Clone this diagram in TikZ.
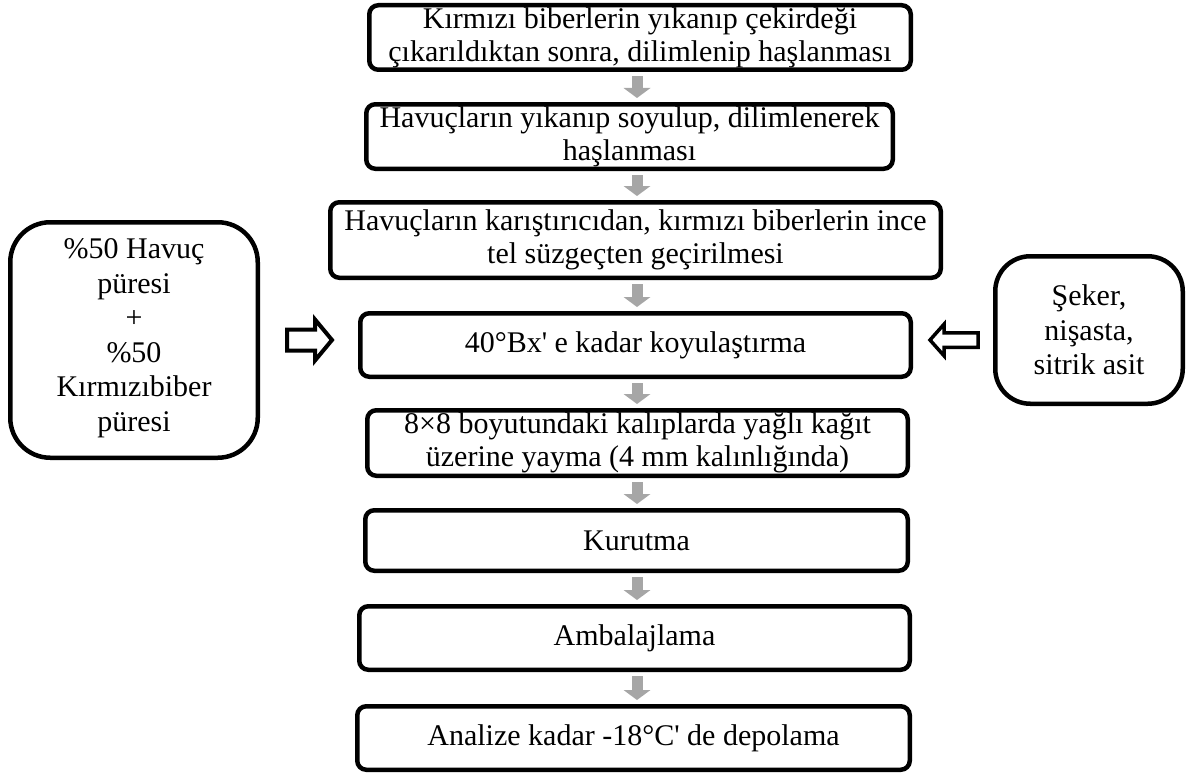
\documentclass[tikz,border=0pt]{standalone}
\usepackage{fontspec}
\setmainfont{Liberation Serif}
\usetikzlibrary{arrows.meta,calc}
\definecolor{flowgray}{RGB}{166,166,166}
\begin{document}
\begin{tikzpicture}[x=1pt,y=-1pt,
  stepbox/.style={draw=black, line width=4.5pt, rounded corners=9pt, fill=white,
    align=center, inner sep=0pt, font=\fontsize{30}{33}\selectfont},
  sidebox/.style={draw=black, line width=4.5pt, fill=white, inner sep=0pt},
  sidetext/.style={align=center, inner sep=0pt, font=\fontsize{30}{34.5}\selectfont},
  garrow/.style={draw=flowgray, line width=11pt,
    -{Triangle[width=27pt,length=10pt,line width=0pt]}},
  harrow/.style={draw=black, fill=white, line join=miter}]
\useasboundingbox (0,0) rectangle (1192,776);

% main process chain
\node[stepbox, minimum width=541.5pt, minimum height=64.5pt] (b1) at (640,37.5)
  {Kırmızı biberlerin yıkanıp çekirdeği\\çıkarıldıktan sonra, dilimlenip haşlanması};
\node[stepbox, minimum width=526.5pt, minimum height=64.5pt] (b2) at (629.5,136.5)
  {Havuçların yıkanıp soyulup, dilimlenerek\\haşlanması};
\node[stepbox, minimum width=610.5pt, minimum height=75.5pt] (b3) at (635.5,240)
  {Havuçların karıştırıcıdan, kırmızı biberlerin ince\\tel süzgeçten geçirilmesi};
\node[stepbox, minimum width=550.5pt, minimum height=63.5pt] (b4) at (635.5,345)
  {40°Bx\textquotesingle\ e kadar koyulaştırma};
\node[stepbox, minimum width=540.5pt, minimum height=65.5pt] (b5) at (637.5,443)
  {8×8 boyutundaki kalıplarda yağlı kağıt\\üzerine yayma (4 mm kalınlığında)};
\node[stepbox, minimum width=542.5pt, minimum height=60.5pt] (b6) at (636.5,540.5)
  {Kurutma};
\node[stepbox, minimum width=550.5pt, minimum height=63.5pt] (b7) at (634.5,638)
  {Ambalajlama};
\node[stepbox, minimum width=552.5pt, minimum height=63.5pt] (b8) at (633.5,738)
  {Analize kadar -18°C\textquotesingle\ de depolama};

% gray arrows between the steps
\coordinate (ax) at (637,0);
\foreach \a/\b in {b1/b2,b2/b3,b3/b4,b4/b5,b5/b6,b6/b7,b7/b8}
  \draw[garrow] ($(\a.south -| ax)+(0,4)$) -- ($(\b.north -| ax)+(0,-4)$);

% side inputs
\node[sidebox, rounded corners=40pt, minimum width=247.5pt, minimum height=235.5pt] (lb) at (134,340) {};
\node[sidetext] (lbt) at (134,338)
  {\%50 Havuç\\püresi\\+\\\%50\\Kırmızıbiber\\püresi};
\node[sidebox, rounded corners=35pt, minimum width=187.5pt, minimum height=147.5pt] (rb) at (1089,330) {};
\node[sidetext] (rbt) at (1089,330)
  {Şeker,\\nişasta,\\sitrik asit};

% hollow arrows feeding the thickening step
\coordinate (la) at (287,340);
\draw[harrow, line width=4pt] (la) ++(0,-10.5) -- ++(28,0) -- ++(0,-10) -- ++(17,20.5)
  -- ++(-17,20.5) -- ++(0,-10) -- ++(-28,0) -- cycle;
\coordinate (ra) at (978,340);
\draw[harrow, line width=3.5pt] (ra) ++(0,-7.25) -- ++(-34,0) -- ++(0,-8.5) -- ++(-14,15.75)
  -- ++(14,15.75) -- ++(0,-8.5) -- ++(34,0) -- cycle;
\end{tikzpicture}
\end{document}
